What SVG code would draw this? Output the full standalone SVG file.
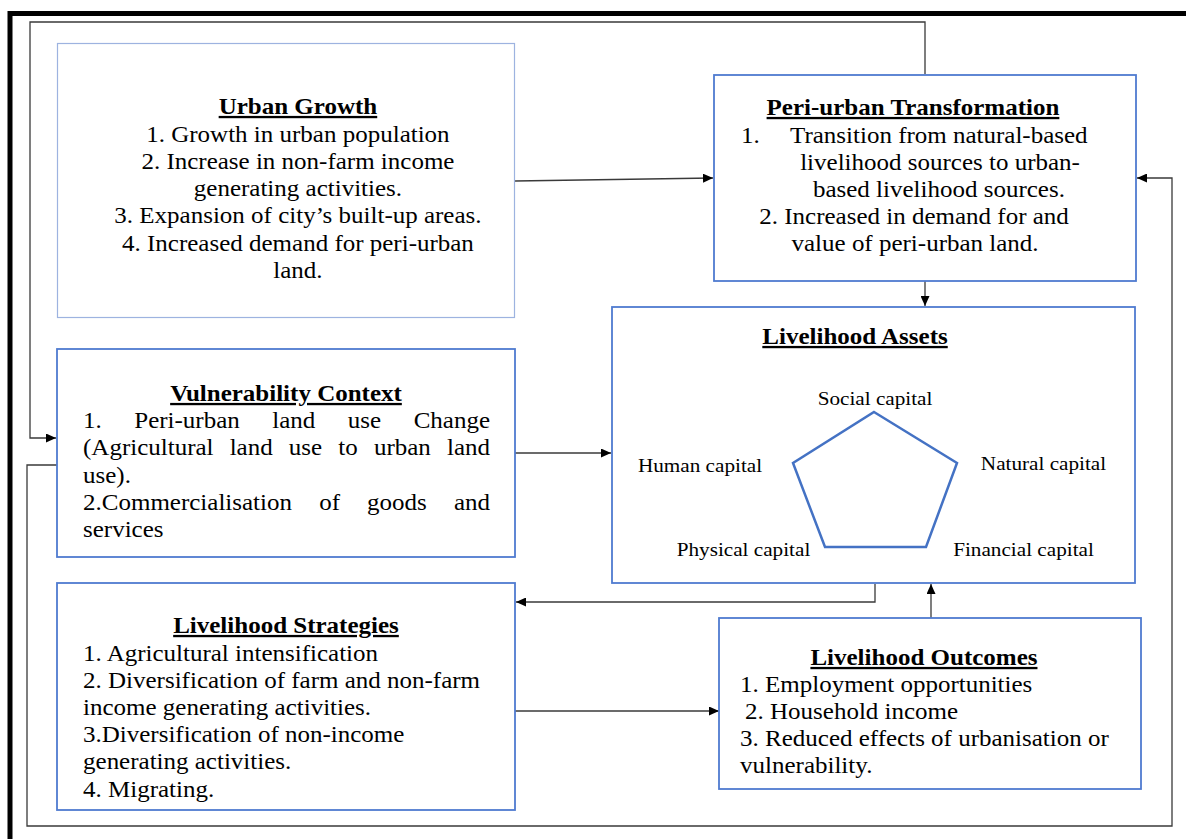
<svg xmlns="http://www.w3.org/2000/svg" width="1186" height="839" viewBox="0 0 1186 839">
<style>
.box{fill:#ffffff;stroke:#4f7bd0;stroke-width:1.8}
.box-light{fill:#ffffff;stroke:#9db3e0;stroke-width:1.2}
.t{font-family:"Liberation Serif","Times New Roman",serif;font-size:23px;fill:#000}
.h{font-family:"Liberation Serif","Times New Roman",serif;font-size:23px;font-weight:bold;text-decoration:underline;fill:#000;text-anchor:middle}
.c{font-family:"Liberation Serif","Times New Roman",serif;font-size:19.5px;fill:#000;text-anchor:middle}
.mid{text-anchor:middle}
.end{text-anchor:end}
.conn{fill:none;stroke:#3a3a3a;stroke-width:1.3}
.frame{fill:none;stroke:#000;stroke-width:5}
</style>
<defs>
<marker id="arrow" markerUnits="userSpaceOnUse" markerWidth="10" markerHeight="9" refX="10" refY="4.5" orient="auto">
<path d="M0,0 L10,4.5 L0,9 z" fill="#000"/>
</marker>
</defs>
<rect x="0" y="0" width="1186" height="839" fill="#ffffff"/>
<g id="frame">
<path class="frame" d="M10,839 V13.5 H1186"/>
</g>
<g id="connectors">
<path class="conn" d="M515,181 L713,178" marker-end="url(#arrow)"/>
<path class="conn" d="M925,74 V22 H30 V438 H56" marker-end="url(#arrow)"/>
<path class="conn" d="M925,281 V306" marker-end="url(#arrow)"/>
<path class="conn" d="M515,453 H611" marker-end="url(#arrow)"/>
<path class="conn" d="M875,584 V602 H516" marker-end="url(#arrow)"/>
<path class="conn" d="M515,711 H719" marker-end="url(#arrow)"/>
<path class="conn" d="M931,618 V584" marker-end="url(#arrow)"/>
<path class="conn" d="M57,465 H27 V826 H1172 V178 H1137" marker-end="url(#arrow)"/>
</g>
<g id="urban-growth">
<rect class="box-light" x="57.5" y="43.5" width="457" height="274"/>
<g transform="scale(1.087 1)">
<text class="h" x="274.1" y="114">Urban Growth</text>
<text class="t mid" x="274.1" y="142">1. Growth in urban population</text>
<text class="t mid" x="274.1" y="169">2. Increase in non-farm income</text>
<text class="t mid" x="274.1" y="196">generating activities.</text>
<text class="t mid" x="274.1" y="223">3. Expansion of city’s built-up areas.</text>
<text class="t mid" x="274.1" y="251">4. Increased demand for peri-urban</text>
<text class="t mid" x="274.1" y="278">land.</text>
</g>
</g>
<g id="peri-urban-transformation">
<rect class="box" x="714" y="75" width="422" height="206"/>
<g transform="scale(1.087 1)">
<text class="h" x="839.9" y="115">Peri-urban Transformation</text>
<text class="t" x="681.7" y="143">1.</text>
<text class="t" x="726.8" y="143">Transition from natural-based</text>
<text class="t mid" x="864.8" y="170">livelihood sources to urban-</text>
<text class="t mid" x="863.8" y="197">based livelihood sources.</text>
<text class="t mid" x="840.9" y="224">2. Increased in demand for and</text>
<text class="t mid" x="841.8" y="251">value of peri-urban land.</text>
</g>
</g>
<g id="livelihood-assets">
<rect class="box" x="612" y="307" width="523" height="276"/>
<polygon points="874,412 957,463 926,547 825,547 793,463" fill="none" stroke="#4472c4" stroke-width="2.5"/>
<g transform="scale(1.087 1)">
<text class="h" x="786.6" y="344">Livelihood Assets</text>
<text class="c" x="805" y="405">Social capital</text>
<text class="c" x="644" y="472">Human capital</text>
<text class="c" x="960" y="470">Natural capital</text>
<text class="c" x="684" y="556">Physical capital</text>
<text class="c" x="941.6" y="556">Financial capital</text>
</g>
</g>
<g id="vulnerability-context">
<rect class="box" x="57" y="349" width="458" height="208"/>
<g transform="scale(1.087 1)">
<text class="h" x="263.1" y="401">Vulnerability Context</text>
<text class="t" x="76.4" y="428">1.</text>
<text class="t" x="123.5" y="428">Peri-urban</text>
<text class="t" x="250.5" y="428">land</text>
<text class="t" x="319.9" y="428">use</text>
<text class="t end" x="450.8" y="428">Change</text>
<text class="t" x="76.4" y="455">(Agricultural</text>
<text class="t" x="211.3" y="455">land</text>
<text class="t" x="265.7" y="455">use</text>
<text class="t" x="311.2" y="455">to</text>
<text class="t" x="344" y="455">urban</text>
<text class="t end" x="450.8" y="455">land</text>
<text class="t" x="76.4" y="483">use).</text>
<text class="t" x="76.4" y="510">2.Commercialisation</text>
<text class="t" x="293.6" y="510">of</text>
<text class="t" x="337.6" y="510">goods</text>
<text class="t end" x="450.8" y="510">and</text>
<text class="t" x="76.4" y="537">services</text>
</g>
</g>
<g id="livelihood-strategies">
<rect class="box" x="57" y="583" width="458" height="227"/>
<g transform="scale(1.087 1)">
<text class="h" x="263.1" y="633">Livelihood Strategies</text>
<text class="t" x="76.4" y="661">1. Agricultural intensification</text>
<text class="t" x="76.4" y="688">2. Diversification of farm and non-farm</text>
<text class="t" x="76.4" y="715">income generating activities.</text>
<text class="t" x="76.4" y="742">3.Diversification of non-income</text>
<text class="t" x="76.4" y="769">generating activities.</text>
<text class="t" x="76.4" y="797">4. Migrating.</text>
</g>
</g>
<g id="livelihood-outcomes">
<rect class="box" x="719" y="618" width="422" height="171"/>
<g transform="scale(1.087 1)">
<text class="h" x="850" y="665">Livelihood Outcomes</text>
<text class="t" x="680.8" y="692">1. Employment opportunities</text>
<text class="t" x="685.4" y="719">2. Household income</text>
<text class="t" x="680.8" y="746">3. Reduced effects of urbanisation or</text>
<text class="t" x="680.8" y="773">vulnerability.</text>
</g>
</g>
</svg>
